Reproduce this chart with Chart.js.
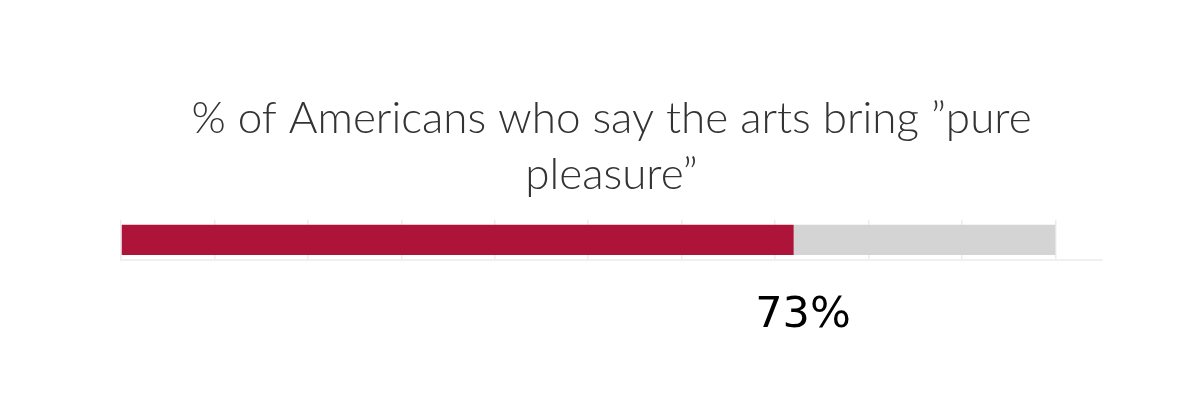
<!DOCTYPE html>
<html>
<head>
<meta charset="utf-8">
<script src="https://cdn.jsdelivr.net/npm/chart.js@4"></script>
<style>
  html, body { margin: 0; padding: 0; background: #fff; }
  #wrap { width: 1198px; height: 408px; }
</style>
</head>
<body>
<div id="wrap"><canvas id="chart"></canvas></div>
<script>
// Data
const categories = ['Pure pleasure'];
const shares = [72];          // red bar, % of Americans
const totals = [100];         // full grey track
const valueLabels = ['73%'];  // label printed under the bar
const titleLines = ['% of Americans who say the arts bring \u201dpure', 'pleasure\u201d'];

const remainder = totals.map((t, i) => t - shares[i]);

// Draws the percentage under the bar, at its place on the x scale
const valueLabelPlugin = {
    id: 'valueLabel',
    afterDraw(chart) {
        const ctx = chart.ctx;
        const x = chart.scales.x;
        ctx.save();
        ctx.font = '400 43px "DejaVu Sans"';
        ctx.fillStyle = '#000';
        ctx.textAlign = 'center';
        ctx.textBaseline = 'alphabetic';
        valueLabels.forEach(txt => {
            const px = x.getPixelForValue(parseFloat(txt));
            ctx.fillText(txt, px, chart.chartArea.bottom + 67);
        });
        ctx.restore();
    }
};

new Chart(document.getElementById('chart'), {
    type: 'bar',
    data: {
        labels: categories,
        datasets: [
            { data: shares, backgroundColor: '#ae1439', categoryPercentage: 1, barPercentage: 0.75 },
            { data: remainder, backgroundColor: '#d4d4d4', categoryPercentage: 1, barPercentage: 0.75 }
        ]
    },
    options: {
        indexAxis: 'y',
        responsive: true,
        maintainAspectRatio: false,
        animation: false,
        layout: { padding: { left: 121, right: 96, top: 91, bottom: 148 } },
        scales: {
            x: {
                stacked: true,
                min: 0,
                max: 105,
                afterBuildTicks: scale => { scale.ticks = scale.ticks.filter(t => t.value <= 100); },
                ticks: { display: false, stepSize: 10 },
                grid: { color: '#ececec', lineWidth: 1.5, drawTicks: false },
                border: { display: true, color: '#f0f0f0', width: 2 }
            },
            y: {
                stacked: true,
                display: false
            }
        },
        plugins: {
            legend: { display: false },
            tooltip: { enabled: false },
            title: {
                display: true,
                text: titleLines,
                color: '#333',
                font: { family: 'Lato', size: 44, weight: '300', lineHeight: 1.27 },
                padding: { top: 0, bottom: 17 }
            }
        }
    },
    plugins: [valueLabelPlugin]
});
</script>
</body>
</html>
